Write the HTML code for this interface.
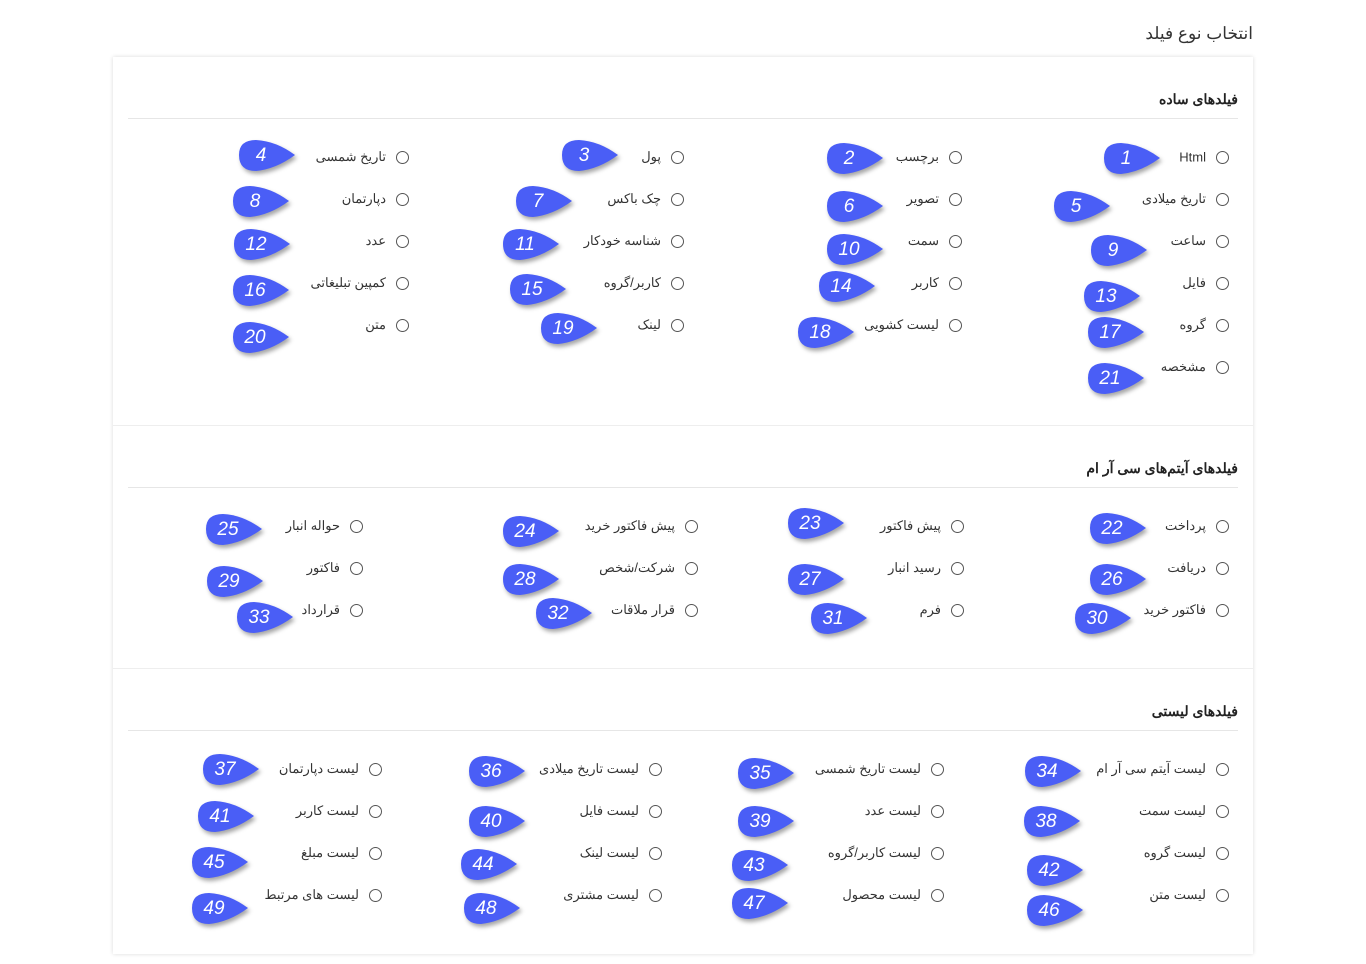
<!DOCTYPE html>
<html lang="fa" dir="rtl"><head><meta charset="utf-8">
<style>
body{margin:0;width:1366px;height:964px;background:#fff;font-family:"Liberation Sans","Noto Sans CJK SC",sans-serif;color:#333;position:relative;overflow:hidden}
.abs{position:absolute}
.title{right:113px;top:24px;font-size:17px;color:#333}
.card{left:113px;top:57px;width:1140px;height:897px;background:#fff;box-shadow:0 0 4px rgba(0,0,0,.15)}
.sec{position:absolute;left:0;width:1140px}
.h{position:absolute;right:15px;font-size:14px;font-weight:bold;color:#222}
.hl{position:absolute;left:15px;right:15px;height:1px;background:#e6e6e6}
.radio{position:absolute;width:13px;height:13px;border:1.3px solid #555;border-radius:50%;box-sizing:border-box}
.lab{position:absolute;font-size:13px;white-space:nowrap;color:#333;transform:translateY(-50%)}
.mk{position:absolute;width:58px;height:36px;filter:drop-shadow(2px 3px 2px rgba(0,0,0,.35))}
.mk span{position:absolute;left:0;top:0;width:46px;height:36px;line-height:36px;text-align:center;color:#fff;font-size:19px;font-style:italic}
</style></head><body>
<div class="abs title">انتخاب نوع فیلد</div>
<div class="abs card">
 <div class="sec" style="top:0;height:368px;border-bottom:1px solid #eee">
  <div class="h" style="top:34px">فیلدهای ساده</div>
  <div class="hl" style="top:61px"></div>
 </div>
 <div class="sec" style="top:368px;height:243px;border-bottom:1px solid #eee">
  <div class="h" style="top:35px">فیلدهای آیتم‌های سی آر ام</div>
  <div class="hl" style="top:62px"></div>
 </div>
 <div class="sec" style="top:611px;height:286px">
  <div class="h" style="top:35px">فیلدهای لیستی</div>
  <div class="hl" style="top:62px"></div>
 </div>
</div>
<div id="items"></div>
<script>
const labels=["Html","برچسب","پول","تاریخ شمسی","تاریخ میلادی","تصویر","چک باکس","دپارتمان","ساعت","سمت","شناسه خودکار","عدد","فایل","کاربر","کاربر/گروه","کمپین تبلیغاتی","گروه","لیست کشویی","لینک","متن","مشخصه",
"پرداخت","پیش فاکتور","پیش فاکتور خرید","حواله انبار","دریافت","رسید انبار","شرکت/شخص","فاکتور","فاکتور خرید","فرم","قرار ملاقات","قرارداد",
"لیست آیتم سی آر ام","لیست تاریخ شمسی","لیست تاریخ میلادی","لیست دپارتمان","لیست سمت","لیست عدد","لیست فایل","لیست کاربر","لیست گروه","لیست کاربر/گروه","لیست لینک","لیست مبلغ","لیست متن","لیست محصول","لیست مشتری","لیست های مرتبط"];
const radioX=[1222,955,677,402,1222,955,677,402,1222,955,677,402,1222,955,677,402,1222,955,677,402,1222,
1222,957,691,356,1222,957,691,356,1222,957,691,356,
1222,937,655,375,1222,937,655,375,1222,937,655,375,1222,937,655,375];
const radioY=[157,157,157,157,199,199,199,199,241,241,241,241,283,283,283,283,325,325,325,325,367,
526,526,526,526,568,568,568,568,610,610,610,610,
769,769,769,769,811,811,811,811,853,853,853,853,895,895,895,895];
const markerX=[1126,849,584,261,1076,849,538,255,1113,849,525,256,1106,841,532,255,1110,820,563,255,1110,
1112,810,525,228,1112,810,525,229,1097,833,558,259,
1047,760,491,225,1046,760,491,220,1049,754,483,214,1049,754,486,214];
const markerY=[157,157,154,154,205,205,200,200,249,248,243,243,295,285,288,289,331,331,327,336,377,
527,522,530,528,578,578,578,580,617,617,612,616,
770,772,770,768,820,820,820,815,869,864,863,861,909,902,907,907];
const root=document.getElementById('items');
const P='M18,2 Q38,3 57,17 Q38,31 18,33 Q1,33 1,17 Q1,2 18,2 Z';
for(let i=0;i<labels.length;i++){
 const r=document.createElement('div');r.className='radio';
 
 
 r.style.left=(radioX[i]-6)+'px';r.style.top=(radioY[i]-6)+'px';root.appendChild(r);
 const l=document.createElement('div');l.className='lab';l.textContent=labels[i];
 
 
 l.style.right=(1366-(radioX[i]-16))+'px';l.style.top=(radioY[i])+'px';root.appendChild(l);
 const m=document.createElement('div');m.className='mk';
 
 
 m.style.left=(markerX[i]-23)+'px';m.style.top=(markerY[i]-16)+'px';
 m.innerHTML='<svg width="58" height="36" style="position:absolute;left:0;top:0"><path d="'+P+'" fill="#4a5ef6"/></svg><span>'+(i+1)+'</span>';
 root.appendChild(m);
}
</script>
</body></html>
